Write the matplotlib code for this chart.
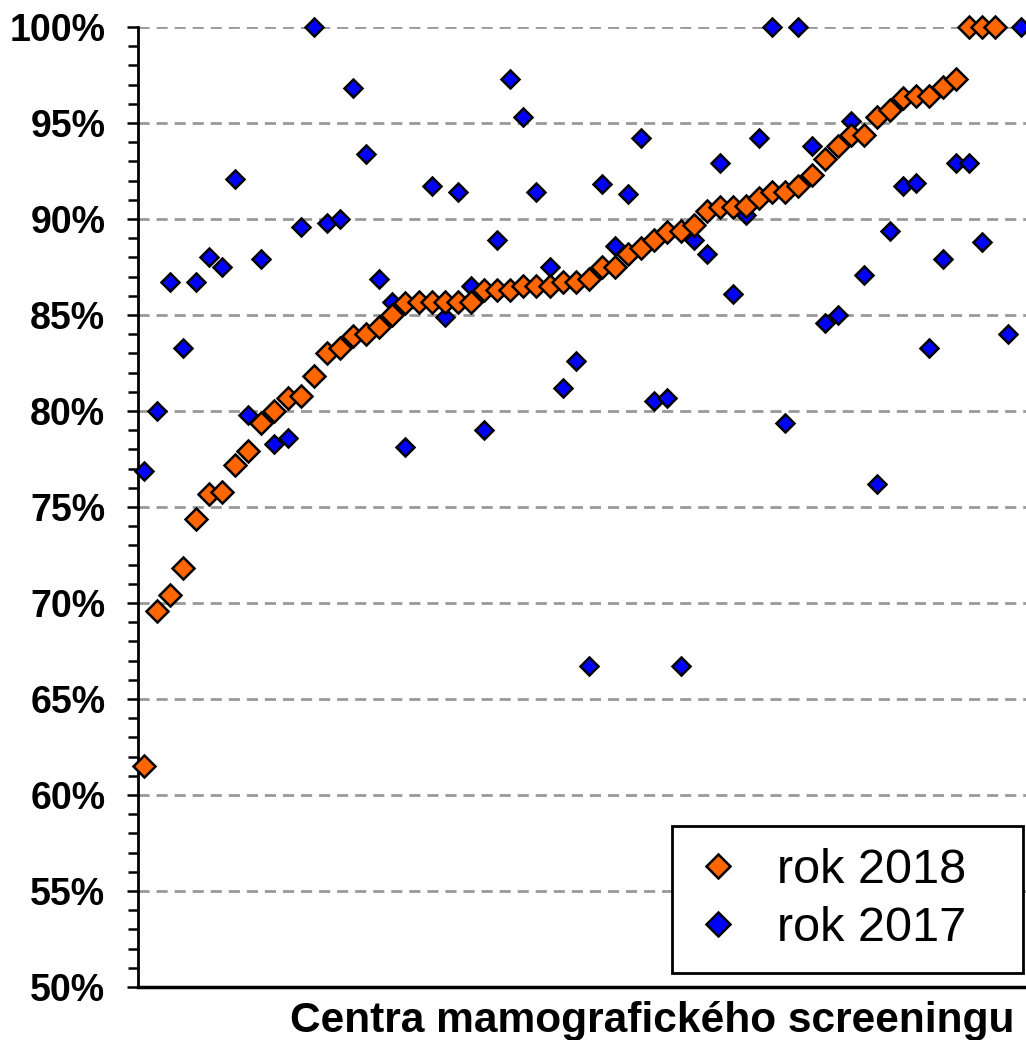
import numpy as np
import matplotlib
matplotlib.use("Agg")
import matplotlib.pyplot as plt
from matplotlib.ticker import MultipleLocator, FuncFormatter
from matplotlib.lines import Line2D

plt.rcParams['font.family'] = ['Liberation Sans', 'DejaVu Sans']

## values in percent
rok_2018 = [61.5, 69.6, 70.4, 71.8, 74.4, 75.7, 75.8, 77.2, 77.9, 79.4,
            80.0, 80.7, 80.8, 81.8, 83.0, 83.3, 83.9, 84.0, 84.4, 85.0,
            85.6, 85.7, 85.7, 85.7, 85.7, 85.7, 86.3, 86.3, 86.3, 86.5,
            86.5, 86.5, 86.7, 86.7, 86.9, 87.5, 87.5, 88.2, 88.5, 88.9,
            89.3, 89.4, 89.7, 90.4, 90.6, 90.6, 90.7, 91.1, 91.4, 91.4,
            91.7, 92.3, 93.1, 93.8, 94.4, 94.4, 95.3, 95.7, 96.3, 96.4,
            96.4, 96.9, 97.3, 100.0, 100.0, 100.0]
rok_2017 = [76.9, 80.0, 86.7, 83.3, 86.7, 88.0, 87.5, 92.1, 79.8, 87.9,
            78.3, 78.6, 89.6, 100.0, 89.8, 90.0, 96.8, 93.4, 86.9, 85.7,
            78.1, np.nan, 91.7, 84.9, 91.4, 86.5, 79.0, 88.9, 97.3, 95.3,
            91.4, 87.5, 81.2, 82.6, 66.7, 91.8, 88.6, 91.3, 94.2, 80.5,
            80.7, 66.7, 88.9, 88.2, 92.9, 86.1, 90.2, 94.2, 100.0, 79.4,
            100.0, 93.8, 84.6, 85.0, 95.1, 87.1, 76.2, 89.4, 91.7, 91.9,
            83.3, 87.9, 92.9, 92.9, 88.8, np.nan, 84.0, 100.0]
labels = ["rok 2018", "rok 2017"]
xlabel = "Centra mamografického screeningu"

orange = "#FF6600"
blue = "#0000FF"

fig = plt.figure(figsize=(10.26, 10.40), dpi=100)
ax = fig.add_axes([138/1026, 53/1040, 888/1026, 960/1040])

x17 = np.arange(len(rok_2017))
x18 = np.arange(len(rok_2018))
ax.plot(x17, rok_2017, ls="none", marker="D", ms=8.8, mfc=blue, mec="black",
        mew=1.8, zorder=3, clip_on=False)
ax.plot(x18, rok_2018, ls="none", marker="D", ms=11, mfc=orange, mec="black",
        mew=1.8, zorder=4, clip_on=False)

ax.set_xlim(-0.42, 67.37)
ax.set_ylim(50, 100)
ax.yaxis.set_major_locator(MultipleLocator(5))
ax.yaxis.set_minor_locator(MultipleLocator(1))
ax.yaxis.set_major_formatter(FuncFormatter(lambda v, p: f"{v:.0f}%"))
ax.set_xticks([])
ax.tick_params(axis="y", which="major", length=8, width=1.8, pad=15.5,
               labelsize=27)
ax.tick_params(axis="y", which="minor", length=7, width=1.8)
for t in ax.get_yticklabels():
    t.set_fontweight("bold")

ax.grid(axis="y", which="major", color="#999999", ls=(0, (4, 2.5)), lw=2)
ax.set_axisbelow(True)
for s in ["top", "right"]:
    ax.spines[s].set_visible(False)
ax.spines["left"].set_linewidth(2)
ax.spines["bottom"].set_linewidth(2.5)

handles = [Line2D([], [], ls="none", marker="D", ms=12, mfc=orange, mec="black", mew=1.8),
           Line2D([], [], ls="none", marker="D", ms=12, mfc=blue, mec="black", mew=1.8)]
leg = ax.legend(handles, labels, loc="lower left",
                bbox_to_anchor=(0.6014, 0.0146, 0.3953, 0.16), mode="expand",
                fontsize=35, frameon=True, fancybox=False, edgecolor="black",
                framealpha=1, handlelength=1.0, handletextpad=0.7,
                borderpad=0.45, labelspacing=0.27, borderaxespad=0)
leg.get_frame().set_linewidth(2)
leg.set_zorder(10)

fig.text(1015/1026, 19/1040, xlabel, ha="right", va="center",
         fontsize=30.6, fontweight="bold")

fig.savefig("out.png", dpi=100)
